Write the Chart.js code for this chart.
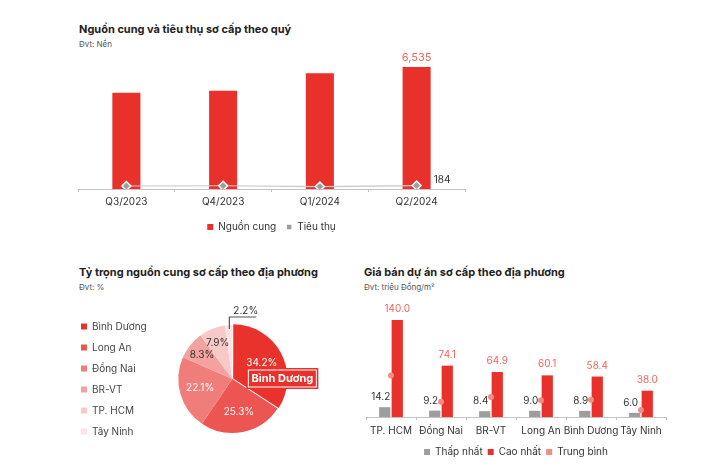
<!DOCTYPE html>
<html lang="vi">
<head>
<meta charset="utf-8">
<script src="https://cdn.jsdelivr.net/npm/chart.js@4.4.1/dist/chart.umd.min.js"></script>
<style>
  body { margin: 0; background: #fff; font-family: Inter, "Noto Sans", sans-serif; }
  #page { position: relative; width: 718px; height: 467px; overflow: hidden; }
  .title { position: absolute; font-size: 11px; font-weight: 700; color: #222; }
  .unit { position: absolute; font-size: 8px; color: #555; }
  .box { position: absolute; }
</style>
</head>
<body>
<div id="page">
  <div class="title" style="left:79px; top:22px;">Nguồn cung và tiêu thụ sơ cấp theo quý</div>
  <div class="unit" style="left:79px; top:39px;">Đvt: Nền</div>
  <div class="box" style="left:62px; top:47px; width:410px; height:195px;"><canvas id="quarterChart"></canvas></div>

  <div class="title" style="left:79px; top:265px;">Tỷ trọng nguồn cung sơ cấp theo địa phương</div>
  <div class="unit" style="left:79px; top:282px;">Đvt: %</div>
  <div class="box" style="left:70px; top:289px; width:260px; height:176px;"><canvas id="shareChart"></canvas></div>

  <div class="title" style="left:364px; top:265px;">Giá bán dự án sơ cấp theo địa phương</div>
  <div class="unit" style="left:364px; top:282px;">Đvt: triệu Đồng/m²</div>
  <div class="box" style="left:356px; top:300px; width:318px; height:167px;"><canvas id="priceChart"></canvas></div>
</div>

<script>
// 四半期チャート
const QUARTERS = ['Q3/2023', 'Q4/2023', 'Q1/2024', 'Q2/2024'];
const SUPPLY = [5150, 5260, 6200, 6535];
const ABSORB = [160, 175, 130, 184];

// 地域別シェア
const REGIONS = ['Bình Dương', 'Long An', 'Đồng Nai', 'BR-VT', 'TP. HCM', 'Tây Ninh'];
const SHARE = [34.2, 25.3, 22.1, 8.3, 7.9, 2.2];

// 地域別価格
const PRICE_REGIONS = ['TP. HCM', 'Đồng Nai', 'BR-VT', 'Long An', 'Bình Dương', 'Tây Ninh'];
const PRICE_MIN = [14.2, 9.2, 8.4, 9.0, 8.9, 6.0];
const PRICE_MAX = [140.0, 74.1, 64.9, 60.1, 58.4, 38.0];
const PRICE_AVG = [60, 22, 29, 24, 25, 10];

// 色
const RED = '#e8312a';
const GRAY = '#9d9d9d';
const LABEL_RED = '#f0655d';
const TEXT = '#333333';
const PIE_COLORS = ['#e8322b', '#ec5551', '#f07d79', '#f3a29f', '#f7cac8', '#fbe4e3'];

const FONT = 'Inter, "Noto Sans", sans-serif';
Chart.defaults.font.family = FONT;
Chart.defaults.color = TEXT;
Chart.defaults.animation = false;
Chart.defaults.maintainAspectRatio = false;
Chart.defaults.plugins.tooltip.enabled = false;

const bySetIndex = (a, b) => a.datasetIndex - b.datasetIndex;

/*
  四半期 棒グラフ
*/
const quarterLabels = {
  id: 'quarterLabels',
  afterDatasetsDraw(chart) {
    const ctx = chart.ctx;
    const last = QUARTERS.length - 1;
    const bar = chart.getDatasetMeta(0).data[last];
    const pt = chart.getDatasetMeta(1).data[last];
    ctx.save();
    ctx.font = '11px ' + FONT;
    ctx.textAlign = 'center';
    ctx.textBaseline = 'bottom';
    ctx.fillStyle = LABEL_RED;
    ctx.fillText(SUPPLY[last].toLocaleString('en-US'), bar.x, bar.y - 4);
    ctx.fillStyle = TEXT;
    ctx.textAlign = 'left';
    ctx.font = '10px ' + FONT;
    ctx.fillText(String(ABSORB[last]), pt.x + 17, pt.y - 1);
    ctx.restore();
  }
};

new Chart(document.getElementById('quarterChart'), {
  type: 'bar',
  data: {
    labels: QUARTERS,
    datasets: [
      {
        label: 'Nguồn cung',
        data: SUPPLY,
        backgroundColor: RED,
        categoryPercentage: 0.29,
        barPercentage: 1,
        order: 1
      },
      {
        label: 'Tiêu thụ',
        type: 'line',
        data: ABSORB,
        borderColor: '#c8c8c8',
        borderWidth: 1.2,
        backgroundColor: GRAY,
        pointStyle: 'rectRot',
        pointRadius: 4.5,
        pointBackgroundColor: GRAY,
        pointBorderColor: '#ffffff',
        pointBorderWidth: 1.5,
        order: 0
      }
    ]
  },
  options: {
    layout: { padding: { left: 16, right: 7, top: 0 } },
    scales: {
      y: { display: false, min: 0, max: 7280 },
      x: {
        border: { display: true, color: '#c4c4c4' },
        grid: { drawOnChartArea: false, tickLength: 3, color: '#c4c4c4' },
        ticks: { font: { size: 10 }, color: TEXT, padding: 4 }
      }
    },
    plugins: {
      legend: {
        position: 'bottom',
        labels: {
          usePointStyle: true, pointStyle: 'rect', boxWidth: 6, boxHeight: 6,
          font: { size: 10 }, padding: 10, sort: bySetIndex
        }
      }
    }
  },
  plugins: [quarterLabels]
});

/*
  シェア 円グラフ
*/
const shareLabels = {
  id: 'shareLabels',
  afterDatasetsDraw(chart) {
    const ctx = chart.ctx;
    const arcs = chart.getDatasetMeta(0).data;
    ctx.save();
    ctx.textAlign = 'center';
    ctx.textBaseline = 'middle';
    ctx.font = '10px ' + FONT;
    arcs.forEach(function(arc, i) {
      if (i === 5) return;
      const mid = (arc.startAngle + arc.endAngle) / 2;
      const r = arc.outerRadius * (i >= 3 ? 0.72 : 0.62);
      const x = arc.x + Math.cos(mid) * r;
      const y = arc.y + Math.sin(mid) * r;
      ctx.fillStyle = i < 3 ? '#ffffff' : TEXT;
      ctx.fillText(SHARE[i].toFixed(1) + '%', x, y);
    });
    // 2.2% 引き出し線
    const tiny = arcs[5];
    const tx = tiny.x - 3;
    const ty = tiny.y - tiny.outerRadius;
    ctx.strokeStyle = '#555';
    ctx.lineWidth = 1.2;
    ctx.beginPath();
    ctx.moveTo(tx, ty + 4);
    ctx.lineTo(tx, ty - 8);
    ctx.lineTo(tx + 27, ty - 8);
    ctx.stroke();
    ctx.fillStyle = TEXT;
    ctx.textAlign = 'left';
    ctx.textBaseline = 'bottom';
    ctx.fillText(SHARE[5].toFixed(1) + '%', tx + 4, ty - 9);
    // Bình Dương 吹き出し
    const main = arcs[0];
    const bx = main.x + 14;
    const by = main.y - 11;
    ctx.fillStyle = RED;
    ctx.fillRect(bx, by, 72, 21);
    ctx.strokeStyle = '#ffffff';
    ctx.lineWidth = 1;
    ctx.strokeRect(bx + 2, by + 2, 68, 17);
    ctx.fillStyle = '#ffffff';
    ctx.font = 'bold 11px ' + FONT;
    ctx.textAlign = 'center';
    ctx.textBaseline = 'middle';
    ctx.fillText(REGIONS[0], bx + 36, by + 11);
    ctx.restore();
  }
};

new Chart(document.getElementById('shareChart'), {
  type: 'pie',
  data: {
    labels: REGIONS,
    datasets: [{
      data: SHARE,
      backgroundColor: PIE_COLORS,
      borderWidth: 0,
      radius: 54,
      offset: [4, 0, 0, 0, 0, 0]
    }]
  },
  options: {
    layout: { padding: { top: 14, bottom: 10, left: 0, right: 22 } },
    plugins: {
      legend: {
        position: 'left',
        labels: {
          usePointStyle: true, pointStyle: 'rect', boxWidth: 6, boxHeight: 6,
          font: { size: 10 }, color: '#444', padding: 11
        }
      }
    }
  },
  plugins: [shareLabels]
});

/*
  価格 棒グラフ
*/
const priceLabels = {
  id: 'priceLabels',
  afterDatasetsDraw(chart) {
    const ctx = chart.ctx;
    ctx.save();
    ctx.textAlign = 'center';
    ctx.textBaseline = 'bottom';
    ctx.font = '10px ' + FONT;
    chart.getDatasetMeta(0).data.forEach(function(bar, i) {
      ctx.fillStyle = TEXT;
      ctx.fillText(PRICE_MIN[i].toFixed(1), bar.x - 4, bar.y - 5);
    });
    chart.getDatasetMeta(1).data.forEach(function(bar, i) {
      ctx.fillStyle = LABEL_RED;
      ctx.fillText(PRICE_MAX[i].toFixed(1), bar.x, bar.y - 6);
    });
    ctx.restore();
  }
};

new Chart(document.getElementById('priceChart'), {
  type: 'bar',
  data: {
    labels: PRICE_REGIONS,
    datasets: [
      { label: 'Thấp nhất', data: PRICE_MIN, backgroundColor: GRAY, order: 1 },
      { label: 'Cao nhất', data: PRICE_MAX, backgroundColor: RED, order: 1 },
      {
        label: 'Trung bình', type: 'line', data: PRICE_AVG, showLine: false,
        backgroundColor: '#f4a29c', pointRadius: 3, pointBackgroundColor: '#f28c85',
        pointBorderWidth: 0, order: 0
      }
    ]
  },
  options: {
    datasets: { bar: { categoryPercentage: 0.5, barPercentage: 0.9 } },
    layout: { padding: { left: 10, right: 8, top: 20 } },
    scales: {
      y: { display: false, min: 0, max: 140 },
      x: {
        border: { display: true, color: '#c4c4c4' },
        grid: { drawOnChartArea: false, tickLength: 3, color: '#c4c4c4' },
        ticks: { font: { size: 10 }, color: TEXT, padding: 5, maxRotation: 0, minRotation: 0, autoSkip: false }
      }
    },
    plugins: {
      legend: {
        position: 'bottom',
        labels: {
          usePointStyle: true, pointStyle: 'rect', boxWidth: 6, boxHeight: 6,
          font: { size: 10 }, padding: 5, sort: bySetIndex
        }
      }
    }
  },
  plugins: [priceLabels]
});
</script>
</body>
</html>
